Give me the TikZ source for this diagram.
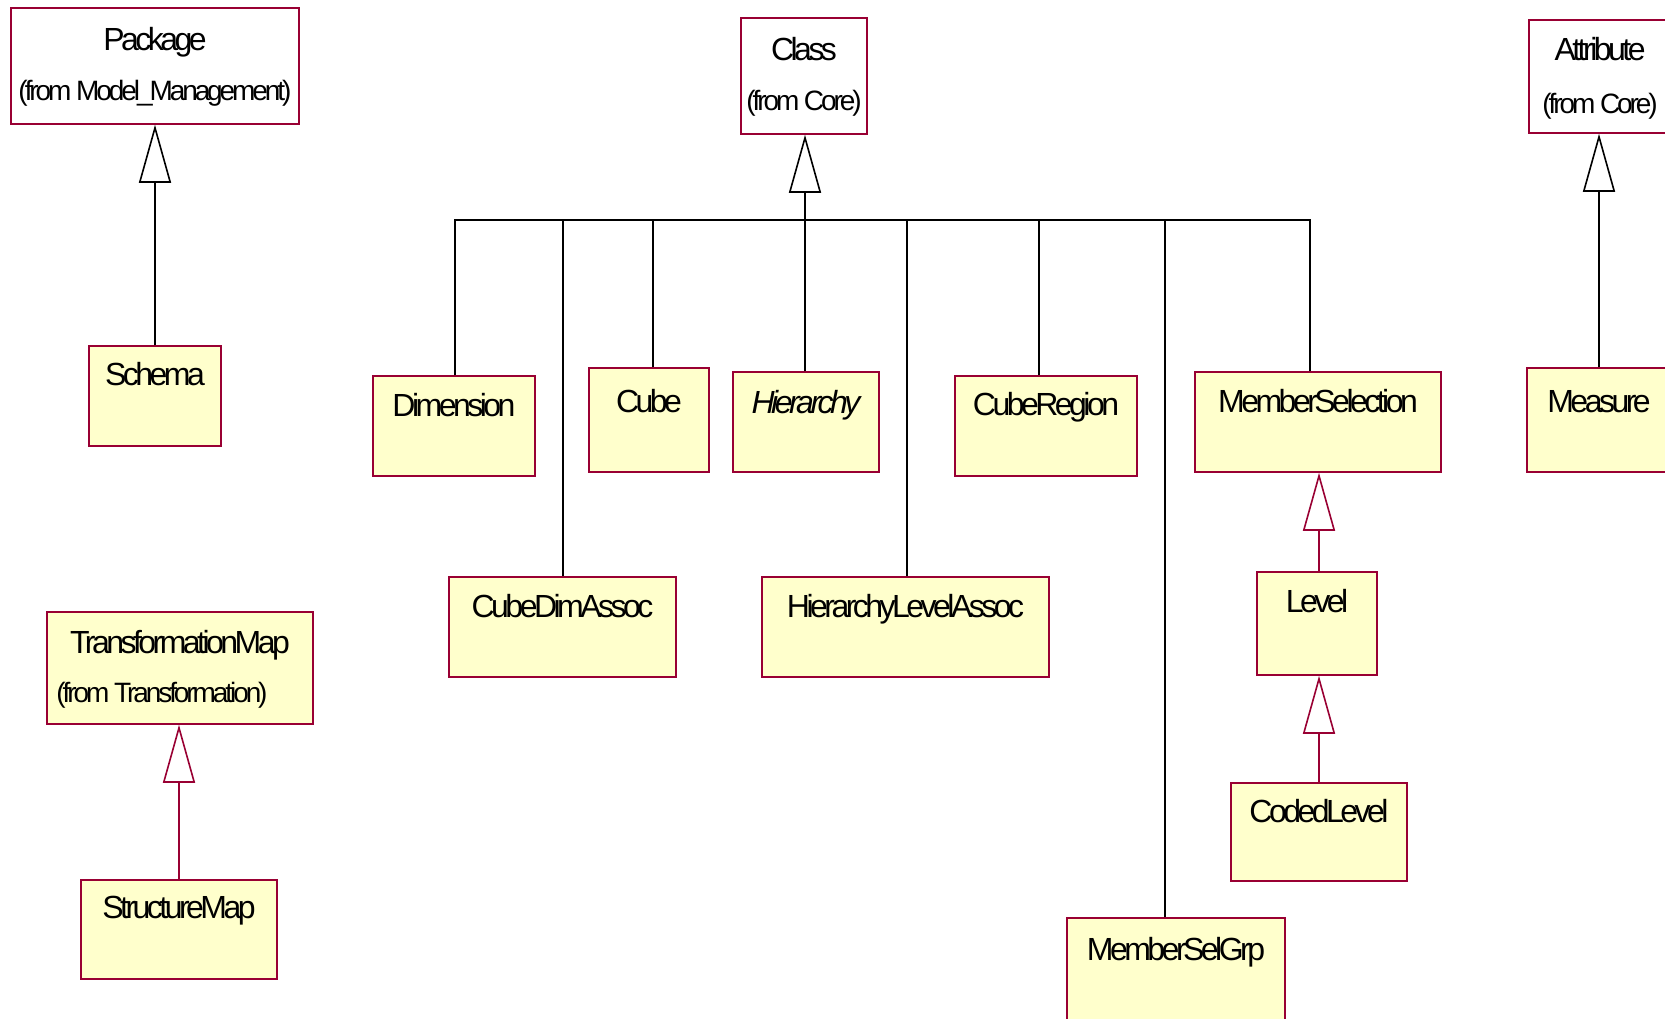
\documentclass[tikz,border=0pt]{standalone}
\usepackage{fontspec}
\setmainfont{Liberation Sans}[LetterSpace=-11]
\usetikzlibrary{arrows.meta,calc}
\definecolor{umlred}{RGB}{153,0,51}
\definecolor{umlfill}{RGB}{255,255,204}
\tikzset{
  cls/.style={draw=umlred, line width=1.5pt, fill=umlfill, inner xsep=0pt, inner ysep=0pt,
    font=\fontsize{32}{50}\selectfont, anchor=center},
  ext/.style={cls, fill=white, align=center},
  conn/.style={draw=black, line width=1.6pt},
  gen/.style={-{Triangle[open,length=58pt,width=32pt]}, line width=1.6pt},
  genred/.style={gen, draw=umlred}
}
\newcommand\fromtxt[1]{{\fontsize{28}{50}\selectfont #1}}
\newcommand\fromtxtb[1]{{\fontsize{28}{53}\selectfont #1}}
\begin{document}
\begin{tikzpicture}[x=1pt,y=-1pt]
\useasboundingbox (0,0) rectangle (1665,1018);
\clip (0,0) rectangle (1665,1018);
% external classes
\node[ext, minimum width=288pt, minimum height=116pt, text height=92pt, text depth=24pt] (package) at (155,66) {Package\\\fromtxt{(from Model\_Management)}};
\node[ext, minimum width=126pt, minimum height=116pt, text height=92pt, text depth=24pt] (class) at (804,76) {Class\\\fromtxt{(from Core)}};
\node[ext, minimum width=142pt, minimum height=113pt, text height=93pt, text depth=20pt, font=\fontsize{32}{53}\selectfont] (attribute) at (1600,76.5) {Attribute\\\fromtxtb{(from Core)}};
\node[cls, align=center, minimum width=266pt, minimum height=112pt, text height=90pt, text depth=22pt, font=\fontsize{32}{49}\selectfont] (tmap) at (180,668) {TransformationMap\\{\fontsize{28}{49}\selectfont(from Transformation)}\kern36pt};
% classes
\node[cls, minimum width=132pt, minimum height=100pt, text height=39pt, text depth=61pt] (schema) at (155,396) {Schema};
\node[cls, minimum width=162pt, minimum height=100pt, text height=40pt, text depth=60pt] (dim) at (454,426) {Dimension};
\node[cls, minimum width=120pt, minimum height=104pt, text height=44pt, text depth=60pt] (cube) at (649,420) {Cube};
\node[cls, minimum width=146pt, minimum height=100pt, text height=41pt, text depth=59pt] (hier) at (806,422) {\itshape Hierarchy};
\node[cls, minimum width=182pt, minimum height=100pt, text height=39pt, text depth=61pt] (creg) at (1046,426) {CubeRegion};
\node[cls, minimum width=246pt, minimum height=100pt, text height=40pt, text depth=60pt] (msel) at (1318,422) {MemberSelection};
\node[cls, minimum width=144pt, minimum height=104pt, text height=44pt, text depth=60pt] (measure) at (1599,420) {Measure};
\node[cls, minimum width=227pt, minimum height=100pt, text height=40pt, text depth=60pt] (cda) at (562.5,627) {CubeDimAssoc};
\node[cls, minimum width=287pt, minimum height=100pt, text height=40pt, text depth=60pt] (hla) at (905.5,627) {HierarchyLevelAssoc};
\node[cls, minimum width=120pt, minimum height=103pt, text height=40pt, text depth=63pt] (level) at (1317,623.5) {Level};
\node[cls, minimum width=176pt, minimum height=98pt, text height=39pt, text depth=59pt] (clevel) at (1319,832) {CodedLevel};
\node[cls, minimum width=218pt, minimum height=112pt, text height=42pt, text depth=70pt] (msg) at (1176,974) {MemberSelGrp};
\node[cls, minimum width=196pt, minimum height=99pt, text height=38pt, text depth=61pt] (smap) at (179,929.5) {StructureMap};
% generalization tree to Class
\coordinate (j) at (805,220);
\draw[gen] (j) -- (j |- class.south);
\draw[conn] ($(dim.north)+(1,0)$) |- (j);
\draw[conn] ($(cda.north)+(0.5,0)$) |- (j);
\draw[conn] ($(cube.north)+(4,0)$) |- (j);
\draw[conn] ($(hier.north)+(-1,0)$) -- (j);
\draw[conn] ($(hla.north)+(1.5,0)$) |- (j);
\draw[conn] ($(creg.north)+(-7,0)$) |- (j);
\draw[conn] ($(msg.north)+(-11,0)$) |- (j);
\draw[conn] ($(msel.north)+(-8,0)$) |- (j);
% other generalizations
\draw[gen] (schema.north) -- (package.south);
\draw[gen] (measure.north) -- (measure.north |- attribute.south);
\draw[genred] ($(level.north)+(2,0)$) -- ($(level.north |- msel.south)+(2,0)$);
\draw[genred] (clevel.north) -- (clevel.north |- level.south);
\draw[genred] (smap.north) -- (smap.north |- tmap.south);
\end{tikzpicture}
\end{document}
